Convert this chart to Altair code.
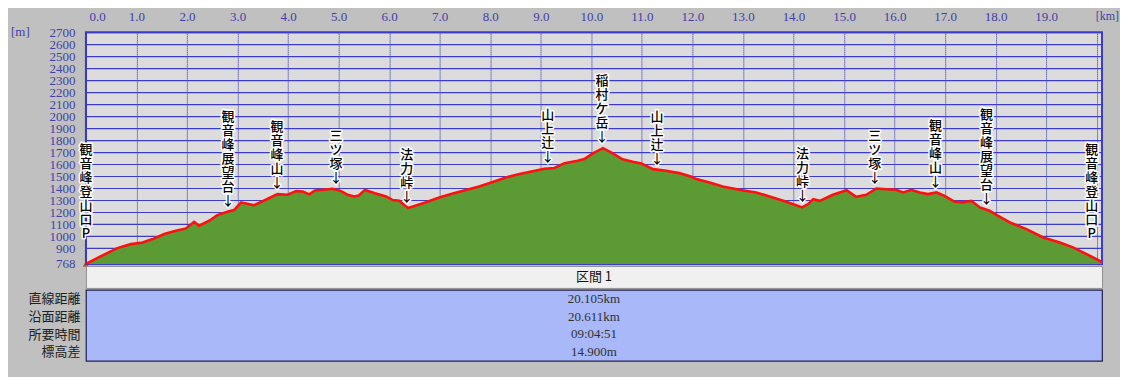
import altair as alt
import pandas as pd

# ---------------- data ----------------
km = [0.00, 0.29, 0.62, 0.89, 1.12, 1.32, 1.55, 1.78, 1.98, 2.14, 2.24, 2.44, 2.60, 2.80,
      2.93, 3.07, 3.33, 3.56, 3.79, 3.99, 4.16, 4.29, 4.42, 4.53, 4.71, 4.88, 5.05, 5.18,
      5.31, 5.40, 5.52, 5.72, 5.94, 6.07, 6.20, 6.37, 6.47, 6.73, 6.99, 7.26, 7.52, 7.78,
      8.02, 8.31, 8.58, 8.84, 9.07, 9.27, 9.47, 9.73, 9.86, 10.03, 10.23, 10.39, 10.62,
      10.82, 10.99, 11.22, 11.48, 11.74, 11.98, 12.08, 12.34, 12.60, 12.93, 13.26, 13.59,
      13.86, 14.05, 14.17, 14.29, 14.39, 14.52, 14.78, 15.05, 15.24, 15.44, 15.64, 15.84,
      16.03, 16.17, 16.33, 16.50, 16.66, 16.83, 16.99, 17.19, 17.36, 17.52, 17.69, 17.88,
      18.05, 18.28, 18.61, 18.94, 19.27, 19.53, 19.80, 20.06, 20.105]
elev = [768, 831, 900, 933, 947, 975, 1017, 1044, 1064, 1119, 1086, 1128, 1175, 1203,
        1217, 1281, 1258, 1303, 1350, 1345, 1375, 1372, 1348, 1380, 1386, 1395, 1375, 1344,
        1330, 1338, 1385, 1358, 1331, 1300, 1294, 1235, 1247, 1283, 1322, 1356, 1385, 1414,
        1447, 1489, 1517, 1540, 1562, 1568, 1608, 1628, 1642, 1690, 1733, 1697, 1640,
        1619, 1606, 1558, 1544, 1525, 1494, 1475, 1447, 1414, 1386, 1364, 1322,
        1286, 1258, 1239, 1267, 1308, 1294, 1344, 1383, 1328, 1344, 1397, 1390,
        1386, 1364, 1386, 1364, 1350, 1364, 1336, 1286, 1281, 1294, 1239, 1211,
        1169, 1114, 1058, 989, 947, 906, 850, 794, 780]

wp_names = ["観音峰登山口P", "観音峰展望台", "観音峰山", "三ツ塚", "法力峠", "山上辻", "稲村ケ岳",
            "山上辻", "法力峠", "三ツ塚", "観音峰山", "観音峰展望台", "観音峰登山口P"]
wp_km = [0.0, 2.81, 3.78, 4.95, 6.35, 9.14, 10.21, 11.30, 14.18, 15.61, 16.81, 17.82, 19.90]
wp_elev = [768, 1205, 1350, 1390, 1235, 1570, 1733, 1552, 1240, 1395, 1362, 1215, 768]

x_ticks = list(range(0, 21))
y_ticks = [768] + list(range(900, 2701, 100))
x_unit = "[km]"
y_unit = "[m]"

section_label = "区間 1"
row_names = ["直線距離", "沿面距離", "所要時間", "標高差"]
row_values = ["20.105km", "20.611km", "09:04:51", "14.900m"]

# ---------------- tables ----------------
prof = pd.DataFrame({"km": km, "elev": elev})
n = len(wp_names)
wp = pd.DataFrame({"km": wp_km, "elev": wp_elev, "name": wp_names})
wp["end"] = [i == 0 or i == n - 1 for i in range(n)]
wp["txt"] = [("\n".join(list(nm)) if e else "\n".join(list(nm)) + "\n↓")
             for nm, e in zip(wp["name"], wp["end"])]
wp["nlines"] = [t.count("\n") + 1 for t in wp["txt"]]

W, H = 1017, 232
LH = 14
SERIF = "Liberation Serif"
GOTHIC = "Noto Sans CJK JP"
LBL = "#4040a8"

xs = alt.Scale(domain=[0, 20.105], nice=False, zero=False)
ys = alt.Scale(domain=[768, 2700], nice=False, zero=False)

X = alt.X("km:Q", scale=xs, axis=alt.Axis(
    orient="top", values=x_ticks, title=None, ticks=False, domain=False,
    labelExpr="datum.value >= 20 ? '' : format(datum.value, '.1f')",
    labelFont=SERIF, labelFontSize=13, labelColor=LBL, labelPadding=9,
    labelFlush=True, labelFlushOffset=-3,
    grid=True, gridColor="#2828a0", gridDash=[1, 1], gridWidth=1))
Y = alt.Y("elev:Q", scale=ys, axis=alt.Axis(
    orient="left", values=y_ticks, title=None, ticks=False, domain=False, format="d",
    labelFont=SERIF, labelFontSize=13, labelColor=LBL, labelPadding=11,
    labelOverlap=False,
    grid=True, gridColor="#3c3cc8", gridWidth=1.2))

area = alt.Chart(prof).mark_area(color="#5c9a34").encode(x=X, y=Y, y2=alt.datum(768))
line = alt.Chart(prof).mark_line(color="#ff1010", strokeWidth=2.6).encode(x=X, y=Y)

def labels(df, dy):
    common = dict(font=GOTHIC, fontSize=13, fontWeight=500, lineBreak="\n",
                  lineHeight=LH, baseline="top", align="center", dy=dy)
    halo = alt.Chart(df).mark_text(
        color="white", stroke="white", strokeWidth=3, strokeJoin="round",
        **common).encode(x=X, y=Y, text="txt:N")
    ink = alt.Chart(df).mark_text(color="black", **common).encode(
        x=X, y=Y, text="txt:N")
    return [halo, ink]

label_layers = []
for (is_end, nl), grp in wp.groupby(["end", "nlines"]):
    gap = 22 if is_end else 3
    label_layers += labels(grp, -(nl * LH + gap))

start = alt.Chart(prof.iloc[[0]]).mark_point(
    shape="triangle-up", filled=True, color="#a02818", size=40).encode(x=X, y=Y)

m_txt = alt.Chart(pd.DataFrame({"t": [y_unit]})).mark_text(
    font=SERIF, fontSize=13, color=LBL, align="left", baseline="middle").encode(
    x=alt.value(-75), y=alt.value(0), text="t:N")
km_txt = alt.Chart(pd.DataFrame({"t": [x_unit]})).mark_text(
    font=SERIF, fontSize=12, color=LBL, align="right", baseline="middle").encode(
    x=alt.value(W + 17), y=alt.value(-16), text="t:N")

profile = alt.layer(area, line, *label_layers, start, m_txt, km_txt).properties(
    width=W, height=H,
    view=alt.ViewBackground(fill="#dcdcdc", stroke="#3c3cc8", strokeWidth=2))

header = alt.Chart(pd.DataFrame({"t": [section_label]})).mark_text(
    font=GOTHIC, fontSize=13, color="#101010").encode(
    x=alt.value(W / 2), y=alt.value(11), text="t:N").properties(
    width=W, height=22,
    view=alt.ViewBackground(fill="#f0f0f0", stroke="#909090", strokeWidth=1))

rows_df = pd.DataFrame({"name": row_names, "val": row_values})
rows = alt.Chart(rows_df).mark_text(
    font=SERIF, fontSize=13, color="#303030").encode(
    x=alt.value(W / 2),
    y=alt.Y("name:N", sort=row_names, axis=alt.Axis(
        title=None, ticks=False, domain=False, labelFont=GOTHIC, labelFontSize=13,
        labelColor="#202020", labelPadding=6)),
    text="val:N").properties(
    width=W, height=71,
    view=alt.ViewBackground(fill="#a8b8f8", stroke="#202050", strokeWidth=1.2))

chart = alt.vconcat(profile, header, rows, spacing=2, bounds="flush").properties(
    padding={"left": 2, "top": 1, "right": 0, "bottom": 15},
    background="#c0c0c0").configure(font=GOTHIC)

chart.save("out.html", embed_options={"renderer": "svg", "actions": False})
